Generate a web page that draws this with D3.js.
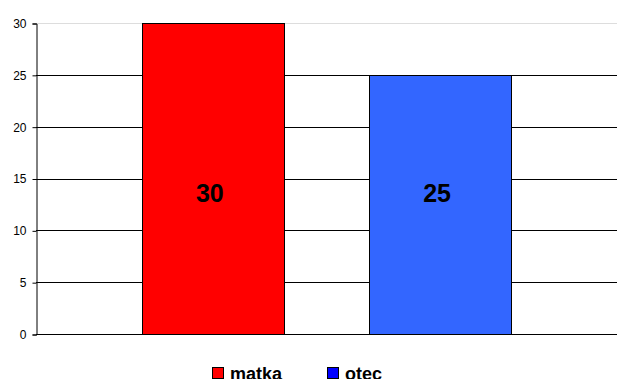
<!DOCTYPE html>
<html>
<head>
<meta charset="utf-8">
<script src="https://cdn.jsdelivr.net/npm/d3@7"></script>
<style>
  html, body { margin: 0; padding: 0; background: #fff; overflow: hidden; }
  svg { display: block; font-family: "Liberation Sans", Arial, sans-serif; }
</style>
</head>
<body>
<svg id="chart" width="617" height="379"></svg>
<script>
// Series shown in the chart
const seriesNames = ["matka", "otec"];
const seriesValues = [30, 25];
const barColors = ["#FF0000", "#3366FF"];
const legendColors = ["#FF0000", "#0000FF"];
const yTicks = [0, 5, 10, 15, 20, 25, 30];

const svg = d3.select("#chart");
const margin = { top: 23, right: 0, bottom: 45, left: 36 };
const W = 617, H = 379;
const x0 = margin.left, x1 = W - margin.right;
const y0 = H - margin.bottom, y1 = margin.top;

const y = d3.scaleLinear().domain([0, 30]).range([y0, y1]);
const x = d3.scaleBand().domain(seriesNames).range([x0, x1])
  .paddingInner(0.373).paddingOuter(0.465);

// Horizontal gridlines
svg.append("g").selectAll("line").data(yTicks.filter(d => d > 0)).join("line")
  .attr("x1", x0).attr("x2", x1)
  .attr("y1", d => Math.round(y(d)) + 0.5).attr("y2", d => Math.round(y(d)) + 0.5)
  .attr("stroke", d => d === 30 ? "#dddddd" : "#000")
  .attr("stroke-width", 1);

// Bars
svg.append("g").selectAll("rect").data(seriesValues).join("rect")
  .attr("x", (d, i) => Math.round(x(seriesNames[i])) + 0.5)
  .attr("y", d => Math.round(y(d)) + 0.5)
  .attr("width", Math.round(x.bandwidth()))
  .attr("height", d => Math.round(y(0)) - Math.round(y(d)))
  .attr("fill", (d, i) => barColors[i])
  .attr("stroke", "#000").attr("stroke-width", 1);

// Value labels inside the bars
svg.append("g").selectAll("text").data(seriesValues).join("text")
  .attr("x", (d, i) => x(seriesNames[i]) + x.bandwidth() / 2 - 3)
  .attr("y", y(13.6))
  .attr("text-anchor", "middle").attr("dominant-baseline", "central")
  .attr("font-size", 25).attr("font-weight", "bold").attr("fill", "#000")
  .text(d => d);

// Y axis
const yAxis = d3.axisLeft(y).tickValues(yTicks).tickSize(4).tickPadding(6);
const gy = svg.append("g").attr("transform", `translate(${x0 + 0.5},0.5)`).call(yAxis);
gy.select(".domain").attr("stroke", "#000");
gy.selectAll(".tick line").attr("stroke", "#000");
gy.selectAll(".tick text").attr("font-size", 12).attr("fill", "#000")
  .attr("font-family", "Liberation Sans, Arial, sans-serif");

// Baseline
svg.append("line").attr("x1", x0).attr("x2", x1)
  .attr("y1", Math.round(y(0)) + 0.5).attr("y2", Math.round(y(0)) + 0.5)
  .attr("stroke", "#000");

// Legend along the bottom edge
const legendX = [212, 327];
const lg = svg.append("g").selectAll("g").data(seriesNames).join("g")
  .attr("transform", (d, i) => `translate(${legendX[i]},367)`);
lg.append("rect").attr("x", 0.5).attr("y", 0.5).attr("width", 11).attr("height", 11)
  .attr("fill", (d, i) => legendColors[i]).attr("stroke", "#000");
lg.append("text").attr("x", 18).attr("y", 13)
  .attr("font-size", 18).attr("font-weight", "bold").attr("fill", "#000")
  .text(d => d);
</script>
</body>
</html>
